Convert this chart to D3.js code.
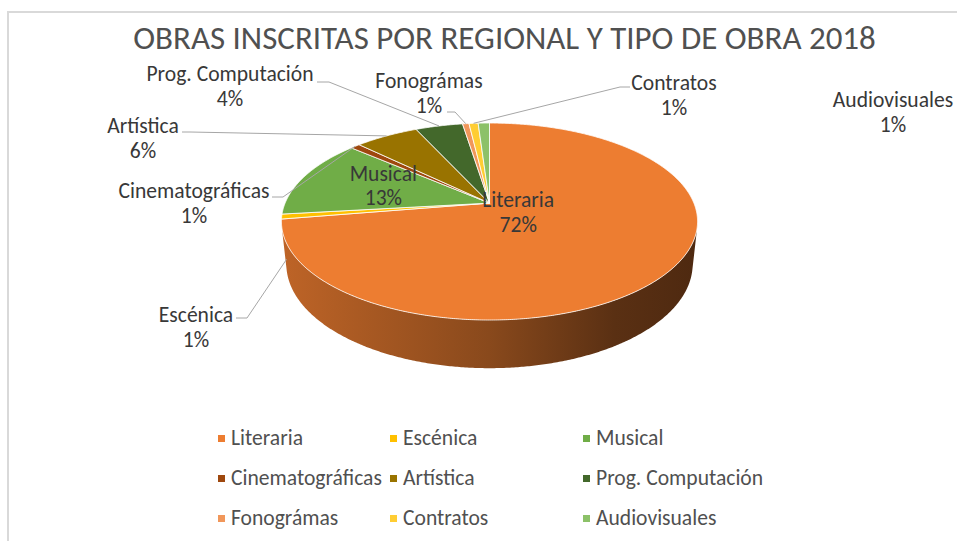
<!DOCTYPE html>
<html><head><meta charset="utf-8">
<script src="https://cdn.jsdelivr.net/npm/d3@7/dist/d3.min.js"></script>
<style>body{margin:0;background:#fff;} svg{display:block;background:#fff}</style>
</head><body><svg id="c" width="957" height="541"></svg>
<script>
// ---------- data ----------
const categories = ["Literaria","Escénica","Musical","Cinematográficas","Artística","Prog. Computación","Fonográmas","Contratos","Audiovisuales"];
const values = [72.4, 0.8, 13.1, 0.9, 5.9, 4.4, 0.6, 0.85, 1.05];
const colors = ["#ED7D31","#FFC000","#70AD47","#9E480E","#997300","#43682B","#F1975A","#FFCD33","#8CC168"];
const title = "OBRAS INSCRITAS POR REGIONAL Y TIPO DE OBRA 2018";

// ---------- layout ----------
const FONT = "Carlito, Calibri, Lato, 'Open Sans', sans-serif";
const P = {cx:489.5, cy:203.1, b:204.4, a:95.05, c:0.187, h:0.2376};
const outLabels = {
  "Prog. Computación": {x:230, y:81, lead:[[317,82],[329,82]], end:"top"},
  "Fonográmas":        {x:429, y:88, lead:[[447,112],[455,112]], end:"top"},
  "Contratos":         {x:674, y:90, lead:[[630,87],[620,87]], end:"top"},
  "Audiovisuales":     {x:893, y:107, lead:null},
  "Artística":         {x:143, y:133, lead:[[182,132],[190,132]], end:"top"},
  "Cinematográficas":  {x:194, y:198, lead:[[272,197],[283,197]], end:"top"},
  "Escénica":          {x:196, y:322, lead:[[236,318],[247,318]], end:"bottom"}
};
const inLabels = {"Literaria":0.18, "Musical":0.56};
const legendCols = [218, 390, 583], legendRows = [445, 485, 525];

const svg = d3.select("#c");
function fitSize(txt, w){
  const t = svg.append("text").attr("font-family",FONT).attr("font-size",100).text(txt);
  const L = t.node().getComputedTextLength(); t.remove(); return 100*w/L;
}
const titleSize = fitSize(title, 743);
const labelSize = fitSize("Cinematográficas", 151);

// border
svg.append("path").attr("d","M8,541V12H957").attr("fill","none").attr("stroke","#d9d9d9").attr("stroke-width",2);

// title
svg.append("text").attr("x",504.5).attr("y",49).attr("text-anchor","middle")
  .attr("font-family",FONT).attr("font-size",titleSize).attr("fill","#505050").text(title);

// ---------- perspective projection of the 3D pie ----------
const s = P.a/P.b, cphi = Math.sqrt(1-s*s), D = cphi/P.c, f = P.b*D;
function proj(ang, r, Y){
  const X = r*Math.sin(ang), Z = r*Math.cos(ang);
  const dep = D + Z*cphi - Y*s;
  return [P.cx + f*X/dep, P.cy - f*(Z*s + Y*cphi)/dep];
}
const total = d3.sum(values);
const arcs = d3.pie().sort(null).value(d=>d)(values);
const line = d3.line();
const step = 0.008;

// wall gradients
const defs = svg.append("defs");
colors.forEach((c,i)=>{
  const base = d3.rgb(c);
  const g = defs.append("linearGradient").attr("id","wg"+i).attr("gradientUnits","userSpaceOnUse")
    .attr("x1",P.cx-P.b*1.02).attr("x2",P.cx+P.b*1.02).attr("y1",0).attr("y2",0);
  [[0,0.8],[0.5,0.58],[0.8,0.38],[1,0.33]].forEach(([o,k])=>{
    g.append("stop").attr("offset",o).attr("stop-color", d3.rgb(base.r*k, base.g*k, base.b*k).formatHex());
  });
});

// walls (front-facing part only)
const amin = Math.acos(-1/(D*cphi)), amax = 2*Math.PI - amin;
arcs.forEach((d,i)=>{
  const lo = Math.max(d.startAngle, amin), hi = Math.min(d.endAngle, amax);
  if (hi <= lo) return;
  const n = Math.max(2, Math.ceil((hi-lo)/step));
  const pts = [];
  for (let k=0;k<=n;k++) pts.push(proj(lo+(hi-lo)*k/n, 1, 0));
  for (let k=n;k>=0;k--) pts.push(proj(lo+(hi-lo)*k/n, 1, -P.h));
  svg.append("path").attr("d", line(pts)+"Z").attr("fill","url(#wg"+i+")");
});

// top faces
arcs.forEach((d,i)=>{
  const a0 = d.startAngle, a1 = d.endAngle;
  const n = Math.max(2, Math.ceil((a1-a0)/step));
  const pts = [proj(0,0,0)];
  for (let k=0;k<=n;k++) pts.push(proj(a0+(a1-a0)*k/n, 1, 0));
  svg.append("path").attr("d", line(pts)+"Z").attr("fill", colors[i])
    .attr("stroke","#ffffff").attr("stroke-width",0.8).attr("stroke-linejoin","round");
});

// ---------- labels ----------
const pct = v => Math.round(v/total*100) + "%";
arcs.forEach((d,i)=>{
  const name = categories[i], mid = (d.startAngle+d.endAngle)/2;
  let x, y1;
  if (inLabels[name] !== undefined){
    const p = proj(mid, inLabels[name], 0);
    x = p[0]; y1 = p[1]-7;
  } else {
    const L = outLabels[name]; x = L.x; y1 = L.y;
    if (L.lead){
      const e = proj(mid, 1, L.end==="bottom" ? -P.h : 0);
      svg.append("path").attr("d", line([L.lead[0], L.lead[1], e]))
        .attr("fill","none").attr("stroke","#a6a6a6").attr("stroke-width",1);
    }
  }
  const t = svg.append("text").attr("text-anchor","middle").attr("font-family",FONT)
    .attr("font-size",labelSize).attr("fill","#383838");
  t.append("tspan").attr("x",x).attr("y",y1).text(name);
  t.append("tspan").attr("x",x).attr("y",y1+24.5).text(pct(values[i]));
});

// ---------- legend ----------
categories.forEach((name,i)=>{
  const x = legendCols[i%3], y = legendRows[Math.floor(i/3)];
  svg.append("rect").attr("x",x).attr("y",y-10).attr("width",7).attr("height",7).attr("fill",colors[i]);
  svg.append("text").attr("x",x+13).attr("y",y).attr("font-family",FONT)
    .attr("font-size",labelSize).attr("fill","#505050").text(name);
});
</script></body></html>
